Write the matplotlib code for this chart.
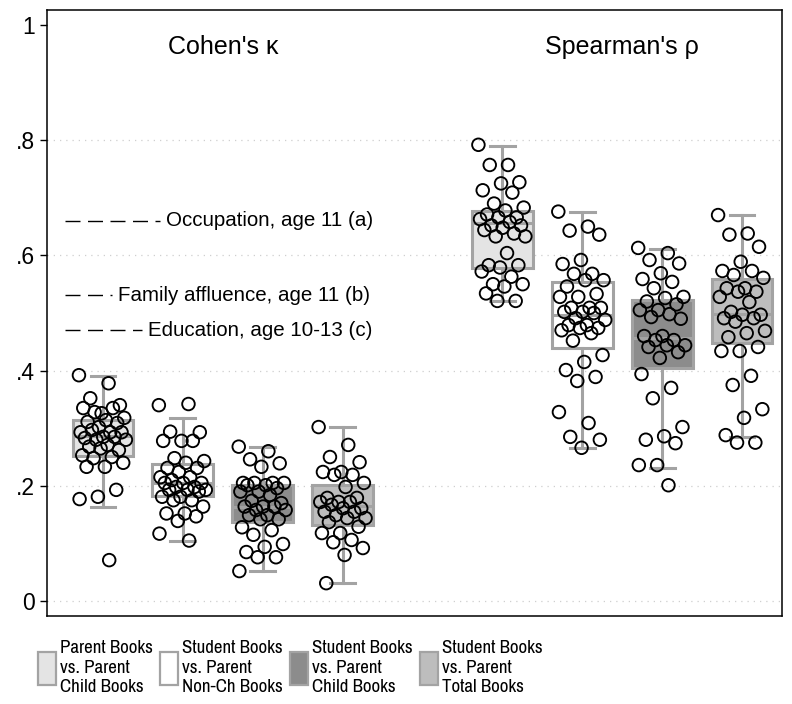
"""Agreement between parent and student book counts: boxplots with jittered points."""

import matplotlib
matplotlib.use("Agg")
import matplotlib.pyplot as plt
import numpy as np
from matplotlib import font_manager
from matplotlib.patches import Patch

plt.rcParams["font.family"] = ["Liberation Sans", "DejaVu Sans"]

# --- data ------------------------------------------------------------------
group_titles = ["Cohen's κ", "Spearman's ρ"]
series_labels = [
    "Parent Books\nvs. Parent\nChild Books",
    "Student Books\nvs. Parent\nNon-Ch Books",
    "Student Books\nvs. Parent\nChild Books",
    "Student Books\nvs. Parent\nTotal Books",
]
series_colors = ["#e4e4e4", "#ffffff", "#8c8c8c", "#bdbdbd"]

kappa_parent_child = [
    0.392, 0.378, 0.352, 0.340, 0.326, 0.335, 0.335, 0.328, 0.318, 0.314,
    0.311, 0.309, 0.302, 0.293, 0.293, 0.297, 0.293, 0.285, 0.283, 0.285,
    0.280, 0.280, 0.271, 0.268, 0.262, 0.265, 0.253, 0.250, 0.248, 0.240,
    0.233, 0.233, 0.193, 0.181, 0.177, 0.071,
]
kappa_student_nonch = [
    0.340, 0.342, 0.294, 0.293, 0.278, 0.278, 0.278, 0.248, 0.243, 0.240,
    0.231, 0.231, 0.224, 0.215, 0.215, 0.210, 0.205, 0.205, 0.205, 0.198,
    0.198, 0.193, 0.193, 0.193, 0.190, 0.181, 0.181, 0.175, 0.175, 0.164,
    0.152, 0.152, 0.147, 0.139, 0.117, 0.105,
]
kappa_student_child = [
    0.268, 0.260, 0.246, 0.239, 0.233, 0.205, 0.205, 0.205, 0.205, 0.201,
    0.201, 0.196, 0.190, 0.190, 0.184, 0.174, 0.170, 0.164, 0.164, 0.164,
    0.158, 0.158, 0.149, 0.149, 0.142, 0.142, 0.128, 0.123, 0.115, 0.099,
    0.094, 0.085, 0.076, 0.076, 0.052,
]
kappa_student_total = [
    0.302, 0.271, 0.250, 0.241, 0.224, 0.224, 0.219, 0.219, 0.205, 0.198,
    0.179, 0.179, 0.172, 0.172, 0.172, 0.167, 0.161, 0.161, 0.155, 0.155,
    0.149, 0.144, 0.144, 0.137, 0.129, 0.118, 0.118, 0.106, 0.102, 0.092,
    0.080, 0.031,
]
rho_parent_child = [
    0.792, 0.757, 0.757, 0.727, 0.725, 0.713, 0.709, 0.690, 0.683, 0.678,
    0.671, 0.666, 0.666, 0.663, 0.658, 0.652, 0.652, 0.648, 0.644, 0.638,
    0.633, 0.633, 0.604, 0.583, 0.583, 0.579, 0.572, 0.563, 0.550, 0.550,
    0.546, 0.534, 0.521, 0.521,
]
rho_student_nonch = [
    0.676, 0.650, 0.643, 0.636, 0.592, 0.585, 0.568, 0.568, 0.557, 0.557,
    0.546, 0.533, 0.528, 0.528, 0.509, 0.509, 0.509, 0.502, 0.502, 0.500,
    0.491, 0.488, 0.479, 0.479, 0.474, 0.474, 0.470, 0.465, 0.452, 0.427,
    0.415, 0.401, 0.389, 0.382, 0.328, 0.309, 0.285, 0.280, 0.266,
]
rho_student_child = [
    0.613, 0.604, 0.592, 0.586, 0.569, 0.559, 0.554, 0.543, 0.528, 0.526,
    0.520, 0.515, 0.505, 0.505, 0.498, 0.493, 0.490, 0.460, 0.460, 0.453,
    0.453, 0.444, 0.444, 0.441, 0.432, 0.422, 0.394, 0.370, 0.352, 0.302,
    0.286, 0.280, 0.274, 0.236, 0.236, 0.201,
]
rho_student_total = [
    0.670, 0.638, 0.636, 0.615, 0.589, 0.573, 0.573, 0.566, 0.561, 0.543,
    0.543, 0.537, 0.537, 0.528, 0.519, 0.502, 0.497, 0.497, 0.491, 0.491,
    0.485, 0.469, 0.465, 0.458, 0.441, 0.434, 0.434, 0.391, 0.375, 0.333,
    0.318, 0.288, 0.275, 0.275,
]
point_sets = [
    kappa_parent_child, kappa_student_nonch, kappa_student_child, kappa_student_total,
    rho_parent_child, rho_student_nonch, rho_student_child, rho_student_total,
]

# box summaries (lower whisker, q1, median, q3, upper whisker)
box_whislo = [0.164, 0.105, 0.052, 0.031, 0.521, 0.266, 0.231, 0.285]
box_q1 = [0.252, 0.182, 0.138, 0.132, 0.578, 0.439, 0.405, 0.448]
box_med = [0.286, 0.205, 0.164, 0.165, 0.657, 0.497, 0.456, 0.498]
box_q3 = [0.314, 0.238, 0.201, 0.201, 0.677, 0.554, 0.523, 0.559]
box_whishi = [0.390, 0.318, 0.268, 0.302, 0.790, 0.676, 0.611, 0.670]

# benchmark agreement from other measures
ref_values = [0.66, 0.531, 0.47]
ref_labels = ["Occupation, age 11 (a)", "Family affluence, age 11 (b)", "Education, age 10-13 (c)"]
ref_line_ends = [1.71, 1.11, 1.49]


def legend_font(size):
    """Use a narrow sans face for the legend when one is installed."""
    for entry in font_manager.fontManager.ttflist:
        if "Narrow" in entry.name and entry.style == "normal" and entry.weight in (400, "normal"):
            return font_manager.FontProperties(fname=entry.fname, size=size)
    for entry in font_manager.fontManager.ttflist:
        if entry.stretch in ("condensed", "semi-condensed") and entry.style == "normal" \
                and entry.weight in (400, "normal"):
            return font_manager.FontProperties(fname=entry.fname, size=size)
    return font_manager.FontProperties(family="Liberation Sans", size=size - 1.5)


# --- figure ----------------------------------------------------------------
positions = [1, 2, 3, 4, 6, 7, 8, 9]
edge = "#a3a3a3"

fig = plt.figure(figsize=(7.92, 7.04), dpi=100)
ax = fig.add_axes([47 / 792, 88 / 704, 735 / 792, 606 / 704])

stats = [
    dict(whislo=lo, q1=q1, med=md, q3=q3, whishi=hi, fliers=[])
    for lo, q1, md, q3, hi in zip(box_whislo, box_q1, box_med, box_q3, box_whishi)
]
bp = ax.bxp(
    stats, positions=positions, widths=0.76, capwidths=0.31, patch_artist=True,
    showfliers=False, manage_ticks=False,
    boxprops=dict(edgecolor=edge, linewidth=2.2),
    whiskerprops=dict(color=edge, linewidth=2.2),
    capprops=dict(color=edge, linewidth=2.2),
    medianprops=dict(color=edge, linewidth=2.2),
)
for i, box in enumerate(bp["boxes"]):
    box.set_facecolor(series_colors[i % 4])

for pos, vals in zip(positions, point_sets):
    idx = np.arange(len(vals))
    offsets = ((idx * 0.618034) % 1 - 0.5) * 0.6
    ax.scatter(pos + offsets, vals, s=82, facecolors="none", edgecolors="black",
               linewidths=1.35, zorder=4)

for val, label, end in zip(ref_values, ref_labels, ref_line_ends):
    ax.plot([0.525, end], [val, val], color="black", linewidth=1.0,
            dashes=(10.8, 5.4))
    ax.text(end + 0.08, val, label, ha="left", va="center", fontsize=14.8)

for x, title in zip([2.5, 7.5], group_titles):
    ax.text(x, 0.962, title, ha="center", va="center", fontsize=18)

ax.set_xlim(0.3, 9.5)
ax.set_ylim(-0.026, 1.026)
ax.set_xticks([])
ax.set_yticks([0, 0.2, 0.4, 0.6, 0.8, 1.0])
ax.set_yticklabels(["0", ".2", ".4", ".6", ".8", "1"])
ax.tick_params(axis="y", labelsize=16.5, length=5, width=1.0, pad=4)
ax.grid(axis="y", color="#cfcfcf", linestyle=(0, (1, 4)), linewidth=0.9)
ax.get_ygridlines()[-1].set_visible(False)
ax.set_axisbelow(True)
for spine in ax.spines.values():
    spine.set_linewidth(1.1)

prop = legend_font(13.6)
handles = [Patch(facecolor=c, edgecolor=edge, linewidth=1.6) for c in series_colors]
leg = fig.legend(
    handles, series_labels, loc="upper left", bbox_to_anchor=(38 / 792, 64 / 704),
    ncol=4, frameon=False, borderpad=0, borderaxespad=0,
    handlelength=18 / (prop.get_size() * 100 / 72),
    handleheight=(23.8 / prop.get_size() - 0.245) / 0.65,
    handletextpad=0.2, columnspacing=0.4, prop=prop,
)
for t in leg.get_texts():
    t.set_linespacing(1.28)

fig.savefig("out.png", dpi=100)
plt.close(fig)
